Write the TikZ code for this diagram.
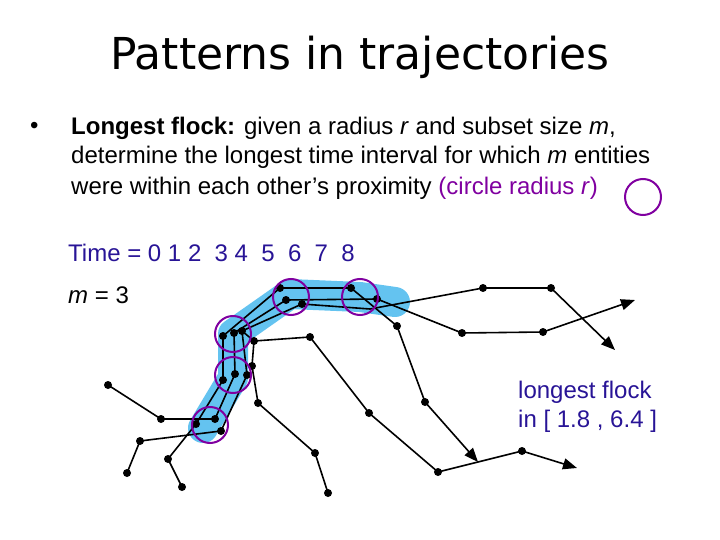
\documentclass[tikz,border=0pt]{standalone}
\usepackage{fontspec}
\setmainfont{Liberation Sans}
\newfontfamily\titlefont{DejaVu Sans}
\usetikzlibrary{arrows.meta}
\definecolor{pur}{RGB}{128,0,160}
\definecolor{dblue}{RGB}{40,20,150}
\definecolor{hl}{RGB}{100,195,240}
\begin{document}
\begin{tikzpicture}[x=1pt,y=-1pt,
  traj/.style={line width=1.6pt,black},
  tip/.style={traj,-{Triangle[length=14pt,width=11pt]}},
  circ/.style={draw=pur,line width=2pt},
  txt/.style={anchor=west,inner sep=0pt,font=\fontsize{24}{28}\selectfont}]
\useasboundingbox (0,0) rectangle (720,540);
\node (title) at (360,57) {\titlefont\fontsize{44}{52}\selectfont Patterns in trajectories};
\node[txt] (b) at (30,128) {•};
\node[txt] (l1) at (71,128) {\textbf{Longest flock:} given a radius \textit{r} and subset size \textit{m},};
\node[txt] (l2) at (71,157) {determine the longest time interval for which \textit{m} entities};
\node[txt] (l3) at (71,188) {were within each other’s proximity \textcolor{pur}{(circle radius \textit{r})}};
\draw[circ] (643,197) circle (18);
\node[txt,text=dblue] (time) at (68,253) {Time = 0 1 2 \ 3 4 \ 5 \ 6 \ 7 \ 8};
\node[txt] (m) at (68,295) {\textit{m} = 3};
\node[txt,text=dblue] (lf1) at (518,392) {longest flock};
\node[txt,text=dblue] (lf2) at (518,421) {in [ 1.8 , 6.4 ]};
% highlight
\draw[hl,line width=30pt,line cap=round,line join=round] (203,428)--(233,378)--(233,334)--(290,294)--(360,297)--(395,302);
% flock members
\draw[tip] (127,473)--(140,441)--(221,431)--(247,375)--(242,331)--(302,304)--(370,309)--(483,288)--(551,288)--(615,350);
\draw[tip] (108,385)--(161,419)--(215,419)--(235,374)--(234,333)--(286,300)--(377,299)--(462,333)--(543,332)--(635,300);
\draw[tip] (182,487)--(168,459)--(196,424)--(223,380)--(223,336)--(280,288)--(351,288)--(397,326)--(425,402)--(478,462);
% others
\draw[tip] (328,493)--(315,453)--(258,403)--(252,366)--(254,341)--(310,337)--(369,413)--(438,472)--(522,451)--(577,468);
\draw[traj] (242,331)--(254,341);
\foreach \p in {(127,473),(140,441),(221,431),(247,375),(242,331),(302,304),(483,288),(551,288),
 (108,385),(161,419),(215,419),(235,374),(234,333),(286,300),(377,299),(462,333),(543,332),
 (182,487),(168,459),(196,424),(223,380),(223,336),(280,288),(351,288),(397,326),(425,402),
 (328,493),(315,453),(258,403),(252,366),(254,341),(310,337),(369,413),(438,472),(522,451)}
 \fill \p circle (4);
\foreach \c in {(210,425),(233,375),(233,334),(291,297),(360,297)}
 \draw[circ] \c circle (18);
\end{tikzpicture}
\end{document}
